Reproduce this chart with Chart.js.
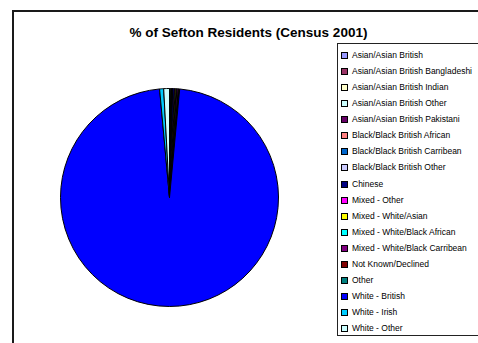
<!DOCTYPE html>
<html>
<head>
<meta charset="utf-8">
<title>% of Sefton Residents (Census 2001)</title>
<script src="https://cdn.jsdelivr.net/npm/chart.js@4/dist/chart.umd.min.js"></script>
<style>
  html, body {
    margin: 0;
    padding: 0;
    background: #fff;
    overflow: hidden;
  }
  .frame {
    position: absolute;
    left: 12px;
    top: 10px;
    width: 540px;
    height: 400px;
    border: 2px solid #1a1a1a;
    box-sizing: border-box;
  }
  .chart-title {
    position: absolute;
    left: 12px;
    width: 473px;
    top: 25px;
    text-align: center;
    font: bold 13.5px "Liberation Sans", Arial, sans-serif;
    color: #000;
  }
  .pie-wrap {
    position: absolute;
    left: 60px;
    top: 88px;
    width: 219px;
    height: 219px;
  }
  .legend {
    position: absolute;
    left: 337px;
    top: 43px;
    width: 220px;
    height: 293px;
    border: 1px solid #222;
    border-right: 0;
    box-sizing: border-box;
    margin: 0;
    padding: 3px 0 0 3px;
    list-style: none;
    font: 8.5px "Liberation Sans", Arial, sans-serif;
    color: #000;
  }
  .legend li {
    height: 16.07px;
    line-height: 16px;
    white-space: nowrap;
  }
  .legend .swatch {
    display: inline-block;
    width: 5px;
    height: 5px;
    border: 1px solid #000;
    margin-right: 4px;
    vertical-align: -1px;
  }
</style>
</head>
<body>

<div class="frame"></div>
<div class="chart-title">% of Sefton Residents (Census 2001)</div>
<div class="pie-wrap"><canvas id="residentsChart"></canvas></div>
<ul class="legend" id="residentsLegend"></ul>

<script>
document.addEventListener("DOMContentLoaded", function() {

  // ethnic groups, in the order they run clockwise from 12 o'clock
  let groupLabels = [
      "Asian/Asian British",
      "Asian/Asian British Bangladeshi",
      "Asian/Asian British Indian",
      "Asian/Asian British Other",
      "Asian/Asian British Pakistani",
      "Black/Black British African",
      "Black/Black British Carribean",
      "Black/Black British Other",
      "Chinese",
      "Mixed - Other",
      "Mixed - White/Asian",
      "Mixed - White/Black African",
      "Mixed - White/Black Carribean",
      "Not Known/Declined",
      "Other",
      "White - British",
      "White - Irish",
      "White - Other",
  ];

  // % of residents
  let residentsPct = [
      0.02, 0.05, 0.13, 0.05, 0.05,
      0.08, 0.06, 0.03,
      0.25,
      0.12, 0.15, 0.10, 0.20,
      0.10, 0.10,
      97.06, 0.60, 0.85,
  ];

  let groupColors = [
      "#9999FF", "#993366", "#FFFFCC", "#CCFFFF", "#660066",
      "#FF8080", "#0066CC", "#CCCCFF",
      "#000080",
      "#FF00FF", "#FFFF00", "#00FFFF", "#800080",
      "#800000", "#008080",
      "#0000FF", "#00CCFF", "#CCFFFF",
  ];

  const ctxResidents = document.getElementById("residentsChart").getContext("2d");

  const residentsChart = new Chart(ctxResidents, {
      type: "pie",
      data: {
          labels: groupLabels,
          datasets: [{
              data: residentsPct,
              backgroundColor: groupColors,
              borderColor: "#000",
              borderWidth: 1,
          }, ],
      },
      options: {
          responsive: true,
          maintainAspectRatio: false,
          animation: false,
          plugins: {
              legend: {
                  display: false,
              },
              tooltip: {
                  enabled: false,
              },
          },
      },
  });

  // legend list on the right
  const legendEl = document.getElementById("residentsLegend");
  groupLabels.forEach(function(label, index) {
      const li = document.createElement("li");
      const swatch = document.createElement("span");
      swatch.className = "swatch";
      swatch.style.background = groupColors[index];
      li.appendChild(swatch);
      li.appendChild(document.createTextNode(label));
      legendEl.appendChild(li);
  });

});
</script>
</body>
</html>
